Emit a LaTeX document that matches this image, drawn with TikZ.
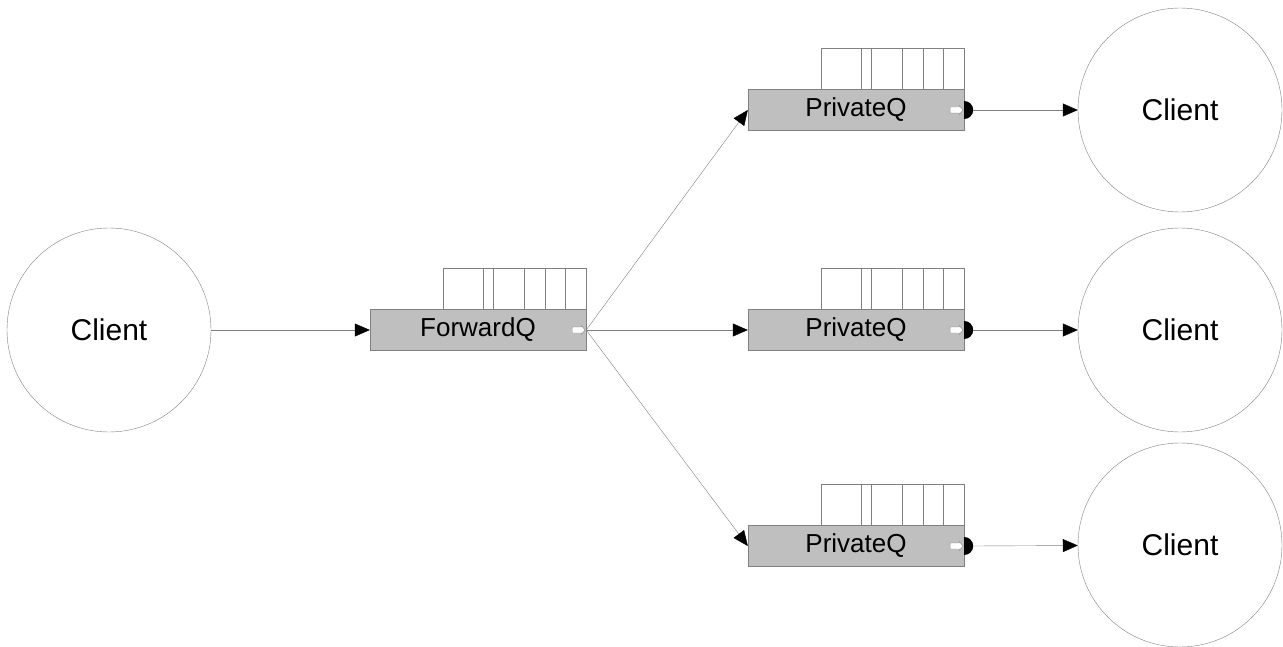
\documentclass[tikz,border=0pt]{standalone}
\usepackage{fontspec}
\setmainfont{Liberation Sans}
\usetikzlibrary{positioning, arrows.meta}
\colorlet{line_gray}{black!50}
\colorlet{queue_gray}{black!25}

\begin{document}
\begin{tikzpicture}[x=1pt, y=-1pt,
                    client/.style={circle, draw=line_gray, thin, minimum size=204pt, inner sep=0pt,
                                   font=\fontsize{30}{34}\selectfont},
                    queue/.style={rectangle, draw=line_gray, fill=queue_gray, thin, minimum width=216pt,
                                  minimum height=41pt, inner sep=0pt, font=\fontsize{26}{30}\selectfont},
                    cell/.style={draw=line_gray, thin},
                    link/.style={draw=line_gray, thin, -{Triangle[length=15pt, width=13pt, color=black]}}]

  \useasboundingbox (0,0) rectangle (1283,647);

  % Define clients and queues
  \node[client] (client0) at (109,330) {Client};
  \node[queue] (fwdq) at (478,330) {ForwardQ\hspace{10pt}};
  \node[queue] (privq1) at (856,110) {PrivateQ\hspace{9pt}};
  \node[queue] (privq2) at (856,330) {PrivateQ\hspace{9pt}};
  \node[queue] (privq3) at (856,546) {PrivateQ\hspace{9pt}};
  \node[client] (client1) at (1180,110) {Client};
  \node[client] (client2) at (1180,330) {Client};
  \node[client] (client3) at (1180,545) {Client};

  % Queue cells and outlet marks
  \foreach \q in {fwdq, privq1, privq2, privq3} {
    \draw[cell] ([xshift=-143pt]\q.north east) rectangle ++(143,-41);
    \foreach \d in {103, 93, 62, 41, 21}
      \draw[cell] ([xshift=-\d pt]\q.north east) -- ++(0,-41);
    \draw[line_gray, fill=white] (\q.east) ++(-1,0) -- ++(-4,-4.5) -- ++(0,1.5) -- ++(-9,0)
      -- ++(0,6) -- ++(9,0) -- ++(0,1.5) -- cycle;
  }
  \foreach \q in {privq1, privq2, privq3}
    \fill ([yshift=9pt]\q.east) arc[start angle=90, end angle=-90, radius=9pt] -- cycle;

  % Connections
  \draw[link] (client0) -- (fwdq);
  \draw[link] (fwdq.east) -- (privq1.west);
  \draw[link] (fwdq.east) -- (privq2.west);
  \draw[link] (fwdq.east) -- (privq3.west);
  \draw[link] ([xshift=9pt]privq1.east) -- (client1);
  \draw[link] ([xshift=9pt]privq2.east) -- (client2);
  \draw[link] ([xshift=9pt]privq3.east) -- (client3);

\end{tikzpicture}
\end{document}
